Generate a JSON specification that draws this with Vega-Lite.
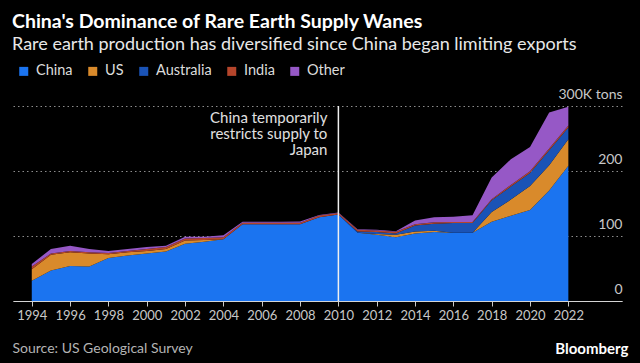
{
  "$schema": "https://vega.github.io/schema/vega-lite/v6.json",
  "width": 609,
  "height": 195,
  "autosize": {"type": "none"},
  "padding": {"left": 13, "top": 106, "right": 18, "bottom": 62},
  "background": "#000000",
  "config": {"view": {"stroke": null}},
  "title": {
    "text": "China's Dominance of Rare Earth Supply Wanes",
    "subtitle": "Rare earth production has diversified since China began limiting exports",
    "anchor": "start",
    "frame": "group",
    "orient": "top",
    "font": "Lato",
    "fontSize": 19.5,
    "fontWeight": "bold",
    "color": "#ffffff",
    "subtitleFont": "Lato",
    "subtitleFontSize": 18,
    "subtitleColor": "#e8e8e8",
    "subtitlePadding": 4,
    "offset": 9,
    "dx": -1
  },
  "datasets": {
    "production": [
      {"year": 1994, "China": 31, "US": 18, "Australia": 0, "India": 4, "Other": 4},
      {"year": 1995, "China": 47, "US": 24, "Australia": 0, "India": 2, "Other": 7},
      {"year": 1996, "China": 54, "US": 21, "Australia": 0, "India": 2, "Other": 8},
      {"year": 1997, "China": 53, "US": 20, "Australia": 0, "India": 2, "Other": 5},
      {"year": 1998, "China": 66, "US": 6, "Australia": 0, "India": 2, "Other": 3},
      {"year": 1999, "China": 70, "US": 5, "Australia": 0, "India": 2, "Other": 3},
      {"year": 2000, "China": 73, "US": 4, "Australia": 0, "India": 3, "Other": 3},
      {"year": 2001, "China": 76, "US": 4, "Australia": 0, "India": 3, "Other": 2},
      {"year": 2002, "China": 88, "US": 5, "Australia": 0, "India": 3, "Other": 3},
      {"year": 2003, "China": 91, "US": 3, "Australia": 0, "India": 3, "Other": 2},
      {"year": 2004, "China": 95, "US": 0, "Australia": 0, "India": 3, "Other": 3},
      {"year": 2005, "China": 118, "US": 0, "Australia": 0, "India": 2.5, "Other": 1.5},
      {"year": 2006, "China": 118, "US": 0, "Australia": 0, "India": 2.5, "Other": 1.5},
      {"year": 2007, "China": 118, "US": 0, "Australia": 0, "India": 2.5, "Other": 1.5},
      {"year": 2008, "China": 118, "US": 0, "Australia": 0, "India": 2.5, "Other": 2},
      {"year": 2009, "China": 129, "US": 0, "Australia": 0, "India": 2.5, "Other": 1},
      {"year": 2010, "China": 133, "US": 0, "Australia": 0, "India": 2.5, "Other": 0.5},
      {"year": 2011, "China": 105, "US": 0, "Australia": 2, "India": 2.5, "Other": 1},
      {"year": 2012, "China": 102, "US": 1, "Australia": 3, "India": 2.5, "Other": 1},
      {"year": 2013, "China": 98, "US": 4, "Australia": 2, "India": 2.5, "Other": 1},
      {"year": 2014, "China": 104, "US": 3, "Australia": 9, "India": 2, "Other": 6},
      {"year": 2015, "China": 106, "US": 2, "Australia": 11, "India": 2, "Other": 8},
      {"year": 2016, "China": 105, "US": 0, "Australia": 15, "India": 1.5, "Other": 8},
      {"year": 2017, "China": 105, "US": 0, "Australia": 15, "India": 1.5, "Other": 10.5},
      {"year": 2018, "China": 122, "US": 15, "Australia": 18, "India": 1.5, "Other": 33.5},
      {"year": 2019, "China": 131, "US": 25, "Australia": 20, "India": 2.5, "Other": 39.5},
      {"year": 2020, "China": 140, "US": 37, "Australia": 20, "India": 2.5, "Other": 37.5},
      {"year": 2021, "China": 170, "US": 39, "Australia": 23, "India": 2.5, "Other": 55.5},
      {"year": 2022, "China": 208, "US": 41, "Australia": 18, "India": 3, "Other": 29}
    ],
    "series": [
      {"country": "China", "rank": 1},
      {"country": "US", "rank": 2},
      {"country": "Australia", "rank": 3},
      {"country": "India", "rank": 4},
      {"country": "Other", "rank": 5}
    ]
  },
  "layer": [
    {
      "data": {"name": "production"},
      "transform": [
        {"fold": ["China", "US", "Australia", "India", "Other"], "as": ["country", "value"]},
        {"lookup": "country", "from": {"data": {"name": "series"}, "key": "country", "fields": ["rank"]}}
      ],
      "mark": {"type": "area", "interpolate": "linear"},
      "encoding": {
        "x": {
          "field": "year",
          "type": "quantitative",
          "scale": {"domain": [1993.02, 2024.8], "nice": false, "zero": false},
          "axis": {
            "values": [1994, 1996, 1998, 2000, 2002, 2004, 2006, 2008, 2010, 2012, 2014, 2016, 2018, 2020, 2022],
            "format": "d",
            "grid": false,
            "labelFlush": false,
            "labelFont": "Lato",
            "labelFontSize": 13,
            "labelColor": "#c8c8c8",
            "labelPadding": 3,
            "tickColor": "#c8c8c8",
            "tickSize": 5,
            "domainColor": "#d4d4d4",
            "domainWidth": 1,
            "title": "Source: US Geological Survey",
            "titleFont": "Lato",
            "titleFontSize": 14,
            "titleFontWeight": "normal",
            "titleColor": "#b4b4b4",
            "titleAnchor": "start",
            "titleAlign": "left",
            "titleBaseline": "middle",
            "titleX": -1,
            "titleY": 47
          }
        },
        "y": {
          "field": "value",
          "type": "quantitative",
          "stack": "zero",
          "scale": {"domain": [0, 300], "nice": false},
          "axis": {
            "orient": "right",
            "values": [0, 100, 200, 300],
            "grid": true,
            "gridColor": "#8c8c8c",
            "gridDash": [1.5, 3],
            "gridWidth": 1,
            "domain": false,
            "ticks": false,
            "labelAlign": "right",
            "labelBaseline": "alphabetic",
            "labelPadding": 0,
            "labelOffset": -8,
            "labelFont": "Lato",
            "labelFontSize": 14,
            "labelColor": "#c8c8c8",
            "labelExpr": "datum.value == 300 ? '300K tons' : datum.label",
            "title": "Bloomberg",
            "titleAngle": 0,
            "titleAlign": "right",
            "titleBaseline": "middle",
            "titleX": 6,
            "titleY": 242,
            "titleFont": "Lato",
            "titleFontSize": 15,
            "titleFontWeight": "bold",
            "titleColor": "#ffffff"
          }
        },
        "color": {
          "field": "country",
          "type": "nominal",
          "scale": {
            "domain": ["China", "US", "Australia", "India", "Other"],
            "range": ["#1b74f0", "#d98a2b", "#1a53b6", "#b5452b", "#9658c6"]
          },
          "legend": {
            "orient": "none",
            "legendX": 3.5,
            "legendY": -42,
            "direction": "horizontal",
            "title": null,
            "symbolType": "square",
            "symbolSize": 81,
            "symbolStrokeWidth": 0,
            "labelFont": "Lato",
            "labelFontSize": 14.5,
            "labelColor": "#dcdcdc",
            "labelOffset": 5,
            "columnPadding": 12
          }
        },
        "order": {"field": "rank", "type": "quantitative", "sort": "ascending"}
      }
    },
    {
      "data": {"values": [{"year": 2010, "low": 0, "high": 300}]},
      "mark": {"type": "rule", "color": "#f0f0f0", "strokeWidth": 1.5},
      "encoding": {
        "x": {"field": "year", "type": "quantitative"},
        "y": {"field": "low", "type": "quantitative"},
        "y2": {"field": "high"}
      }
    },
    {
      "data": {"values": [{"year": 2010, "pos": 274.5, "note": ["China temporarily", "restricts supply to", "Japan"]}]},
      "mark": {"type": "text", "align": "right", "baseline": "alphabetic", "dx": -11, "font": "Lato", "fontSize": 15, "lineHeight": 16, "color": "#e0e0e0"},
      "encoding": {
        "x": {"field": "year", "type": "quantitative"},
        "y": {"field": "pos", "type": "quantitative"},
        "text": {"field": "note"}
      }
    }
  ]
}
